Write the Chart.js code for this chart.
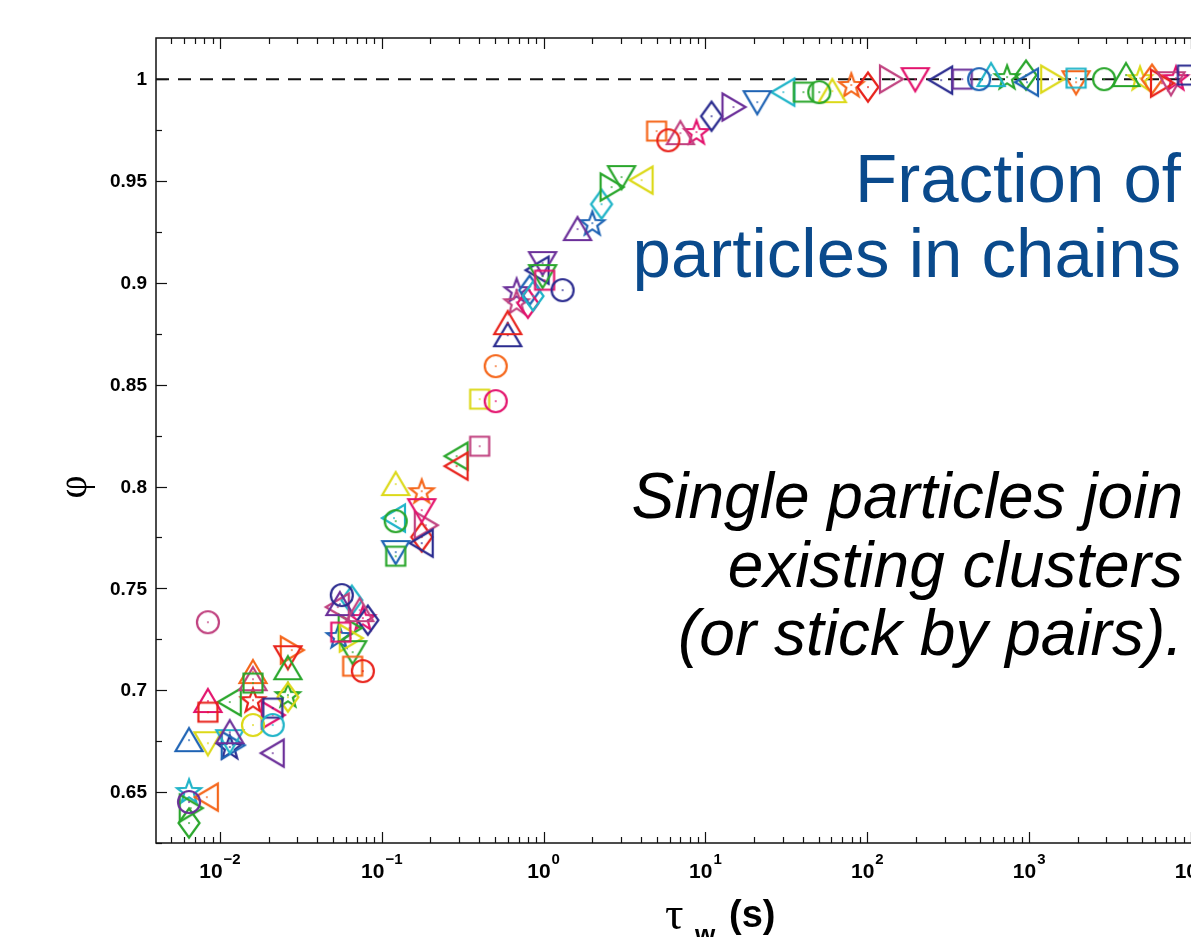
<!DOCTYPE html>
<html>
<head>
<meta charset="utf-8">
<script src="https://cdn.jsdelivr.net/npm/chart.js@4.4.0/dist/chart.umd.min.js"></script>
<style>
  html, body { margin: 0; padding: 0; background: #fff; overflow: hidden; }
  #wrap { width: 1300px; height: 937px; }
</style>
</head>
<body>
<div id="wrap"><canvas id="chart" width="1300" height="937"></canvas></div>
<script>
// --- data: waiting time tau_w (s) and fraction phi, grouped by marker shape ---
const circleTau = [0.00843, 0.016, 0.0212, 0.00644, 0.0566, 0.0764, 0.1219, 0.506, 0.506, 1.31, 5.9, 50.5, 491, 2904];
const circlePhi = [0.7334, 0.6829, 0.6829, 0.6451, 0.7467, 0.7094, 0.783, 0.8419, 0.8591, 0.8964, 0.970, 0.9936, 1.0, 1.0];

const squareTau = [0.016, 0.00843, 0.0212, 0.0558, 0.0661, 0.1219, 0.4027, 0.4027, 1.014, 4.99, 40.3, 386, 1950, 9500];
const squarePhi = [0.7035, 0.6892, 0.6912, 0.7285, 0.7118, 0.7658, 0.8198, 0.8429, 0.9013, 0.9745, 0.9936, 1.0, 1.0005, 1.002];

const upTau = [0.0263, 0.016, 0.016, 0.00843, 0.0115, 0.00644, 0.0551, 0.0731, 0.1219, 0.600, 0.600, 1.62, 7.0, 60.8, 582, 3970];
const upPhi = [0.7108, 0.7089, 0.7054, 0.6947, 0.6794, 0.6755, 0.7423, 0.7393, 0.8012, 0.8743, 0.8802, 0.9264, 0.9735, 0.9941, 1.002, 1.002];

const downTau = [0.0263, 0.00843, 0.0115, 0.0661, 0.1766, 0.1219, 0.986, 0.986, 3.03, 20.9, 198, 1950, 7530];
const downPhi = [0.7162, 0.6740, 0.675, 0.7187, 0.7884, 0.7678, 0.9097, 0.9033, 0.9519, 0.9887, 1.0, 0.9985, 0.998];

const leftTau = [0.0115, 0.0212, 0.0083, 0.0535, 0.119, 0.1766, 0.290, 0.290, 0.918, 4.03, 30.3, 286, 970];
const leftPhi = [0.6942, 0.6691, 0.6475, 0.7408, 0.7845, 0.7722, 0.8149, 0.810, 0.9062, 0.9504, 0.9936, 0.9995, 0.9985];

const rightTau = [0.0278, 0.0212, 0.0120, 0.0066, 0.0633, 0.0643, 0.187, 2.63, 14.9, 140, 1387, 6620];
const rightPhi = [0.7197, 0.6878, 0.673, 0.6421, 0.7305, 0.7256, 0.781, 0.947, 0.9863, 1.0, 1.0, 0.998];

const diamondTau = [0.0263, 0.00644, 0.0653, 0.082, 0.1766, 0.82, 0.80, 0.86, 2.28, 10.9, 101, 957, 5745];
const diamondPhi = [0.6966, 0.6348, 0.7442, 0.7344, 0.7752, 0.8964, 0.890, 0.8935, 0.9386, 0.9818, 0.9961, 1.002, 1.0];

const starTau = [0.016, 0.0263, 0.0115, 0.00644, 0.0764, 0.0543, 0.1766, 0.681, 0.681, 2.0, 8.8, 79.6, 731, 4845, 8070];
const starPhi = [0.6951, 0.6976, 0.6721, 0.6505, 0.7354, 0.7266, 0.7977, 0.8964, 0.8905, 0.9293, 0.974, 0.9971, 1.001, 1.0005, 1.0005];

const yTickLabels = ['0.65', '0.7', '0.75', '0.8', '0.85', '0.9', '0.95', '1'];
const xTickExponents = [-2, -1, 0, 1, 2, 3, 4];

// --- styles (kept apart from the values) ---
const palette = {
    red: '#e8231c', orange: '#f5661a', yellow: '#dcd919', green: '#29a62b', cyan: '#1fb4c8',
    blue: '#1e63b4', navy: '#2a2b8f', purple: '#6b2f99', mauve: '#c0417f', magenta: '#e3136d'
};
const circleColors = ['mauve', 'yellow', 'cyan', 'purple', 'navy', 'red', 'green', 'magenta', 'orange', 'navy', 'red', 'green', 'blue', 'green'];
const squareColors = ['green', 'red', 'navy', 'magenta', 'orange', 'green', 'mauve', 'yellow', 'magenta', 'orange', 'green', 'purple', 'cyan', 'navy'];
const upColors = ['green', 'orange', 'mauve', 'magenta', 'purple', 'blue', 'purple', 'mauve', 'yellow', 'navy', 'red', 'purple', 'mauve', 'yellow', 'cyan', 'green'];
const downColors = ['red', 'yellow', 'cyan', 'green', 'magenta', 'blue', 'purple', 'green', 'green', 'blue', 'magenta', 'orange', 'mauve'];
const leftColors = ['green', 'purple', 'orange', 'mauve', 'cyan', 'navy', 'green', 'red', 'navy', 'yellow', 'cyan', 'navy', 'blue'];
const rightColors = ['orange', 'magenta', 'blue', 'green', 'green', 'yellow', 'mauve', 'green', 'purple', 'mauve', 'yellow', 'red'];
const diamondColors = ['yellow', 'green', 'cyan', 'navy', 'red', 'blue', 'magenta', 'cyan', 'cyan', 'navy', 'red', 'green', 'orange'];
const starColors = ['red', 'green', 'navy', 'cyan', 'magenta', 'blue', 'orange', 'purple', 'mauve', 'blue', 'magenta', 'orange', 'green', 'yellow', 'magenta'];

// hollow marker with a tiny centre dot, drawn once per shape/colour
const markerCache = {};
function marker(shape, colorName) {
    const key = shape + colorName;
    if (markerCache[key]) return markerCache[key];
    const c = document.createElement('canvas');
    c.width = 36; c.height = 36;
    const g = c.getContext('2d');
    const col = palette[colorName];
    g.translate(18, 18);
    g.strokeStyle = col;
    g.fillStyle = col;
    g.lineWidth = 2.2;
    g.lineJoin = 'miter';
    g.beginPath();
    if (shape === 'circle') {
        g.arc(0, 0, 11, 0, Math.PI * 2);
    } else if (shape === 'square') {
        g.rect(-9.5, -9.5, 19, 19);
    } else if (shape === 'up') {
        g.moveTo(0, -12); g.lineTo(13.5, 11); g.lineTo(-13.5, 11); g.closePath();
    } else if (shape === 'down') {
        g.moveTo(0, 12); g.lineTo(13.5, -11); g.lineTo(-13.5, -11); g.closePath();
    } else if (shape === 'left') {
        g.moveTo(-12, 0); g.lineTo(11, -13.5); g.lineTo(11, 13.5); g.closePath();
    } else if (shape === 'right') {
        g.moveTo(12, 0); g.lineTo(-11, -13.5); g.lineTo(-11, 13.5); g.closePath();
    } else if (shape === 'diamond') {
        g.moveTo(0, -14.5); g.lineTo(10.5, 0); g.lineTo(0, 14.5); g.lineTo(-10.5, 0); g.closePath();
    } else if (shape === 'star') {
        for (let i = 0; i < 10; i++) {
            const r = i % 2 === 0 ? 12.5 : 5.2;
            const a = -Math.PI / 2 + i * Math.PI / 5;
            const px = r * Math.cos(a), py = r * Math.sin(a) + 1;
            if (i === 0) g.moveTo(px, py); else g.lineTo(px, py);
        }
        g.closePath();
    }
    g.stroke();
    g.fillRect(-0.8, -0.8, 1.6, 1.6);
    markerCache[key] = c;
    return c;
}

function shapeDataset(shape, taus, phis, colors) {
    return {
        type: 'scatter',
        data: taus.map((t, i) => ({ x: t, y: phis[i] })),
        pointStyle: ctx => marker(shape, colors[ctx.dataIndex] || 'navy'),
        pointRadius: 12,
        order: 0
    };
}

const X_MIN = 0.004027, X_MAX = 39200;
const Y_MIN = 0.625, Y_MAX = 1.0202;

// frame, inward ticks, labels and the slide text
const framePlugin = {
    id: 'frame',
    afterDraw(chart) {
        const { ctx, chartArea: a, scales: { x, y } } = chart;
        ctx.save();
        ctx.strokeStyle = '#111';
        ctx.lineWidth = 1.5;
        ctx.strokeRect(a.left, a.top, a.right - a.left, a.bottom - a.top);

        const seg = (x1, y1, x2, y2) => { ctx.beginPath(); ctx.moveTo(x1, y1); ctx.lineTo(x2, y2); ctx.stroke(); };
        ctx.lineWidth = 1.2;
        for (let e = -3; e <= 5; e++) {
            for (let m = 1; m <= 9; m++) {
                const v = m * Math.pow(10, e);
                if (v < X_MIN || v > X_MAX) continue;
                const px = Math.round(x.getPixelForValue(v)) + 0.5;
                const len = m === 1 ? 11 : 6;
                seg(px, a.bottom, px, a.bottom - len);
                seg(px, a.top, px, a.top + len);
            }
        }
        for (let k = 0; k <= 16; k++) {
            const v = Math.round((0.625 + k * 0.025) * 1000) / 1000;
            if (v < Y_MIN || v > Y_MAX) continue;
            const py = Math.round(y.getPixelForValue(v)) + 0.5;
            seg(a.left, py, a.left + (k % 2 === 1 ? 11 : 6), py);
        }

        ctx.fillStyle = '#000';
        ctx.font = 'bold 19px "Liberation Sans", Arial, sans-serif';
        ctx.textAlign = 'right';
        ctx.textBaseline = 'middle';
        yTickLabels.forEach(lbl => {
            ctx.fillText(lbl, a.left - 9, y.getPixelForValue(parseFloat(lbl)) + 1);
        });

        ctx.textAlign = 'left';
        ctx.textBaseline = 'alphabetic';
        xTickExponents.forEach(e => {
            const px = x.getPixelForValue(Math.pow(10, e));
            const sup = e < 0 ? '\u2212' + (-e) : String(e);
            ctx.font = 'bold 21px "Liberation Sans", Arial, sans-serif';
            const w10 = ctx.measureText('10').width;
            ctx.font = 'bold 15px "Liberation Sans", Arial, sans-serif';
            const ws = ctx.measureText(sup).width;
            const x0 = px - (w10 + ws + 1) / 2;
            ctx.font = 'bold 21px "Liberation Sans", Arial, sans-serif';
            ctx.fillText('10', x0, 878);
            ctx.font = 'bold 15px "Liberation Sans", Arial, sans-serif';
            ctx.fillText(sup, x0 + w10 + 1, 864);
        });

        // axis titles
        ctx.font = '46px "Liberation Serif", "DejaVu Serif", serif';
        ctx.fillText('\u03c4', 665, 929);
        ctx.font = 'bold 26px "Liberation Sans", Arial, sans-serif';
        ctx.fillText('w', 695, 943);
        ctx.font = 'bold 38px "Liberation Sans", Arial, sans-serif';
        ctx.fillText('(s)', 729, 927);

        ctx.save();
        ctx.translate(75, 487);
        ctx.rotate(-Math.PI / 2);
        ctx.textAlign = 'center';
        ctx.textBaseline = 'middle';
        ctx.font = '40px "Liberation Serif", "DejaVu Serif", serif';
        ctx.fillText('\u03c6', 0, 0);
        ctx.restore();

        // slide annotations
        ctx.textAlign = 'right';
        ctx.fillStyle = '#0a4a8c';
        ctx.font = '69px "Liberation Sans", Arial, sans-serif';
        ctx.fillText('Fraction of', 1181, 202);
        ctx.fillText('particles in chains', 1181, 277);

        ctx.fillStyle = '#000';
        ctx.font = 'italic 64px "Liberation Sans", Arial, sans-serif';
        ctx.fillText('Single particles join', 1183, 518);
        ctx.fillText('existing clusters', 1183, 587);
        ctx.fillText('(or stick by pairs).', 1183, 655);
        ctx.restore();
    }
};

new Chart(document.getElementById('chart'), {
    type: 'scatter',
    data: {
        datasets: [
            {
                type: 'line',
                data: [{ x: X_MIN, y: 1 }, { x: X_MAX, y: 1 }],
                borderColor: '#111',
                borderWidth: 2,
                borderDash: [13, 9],
                pointRadius: 0,
                order: 10
            },
            shapeDataset('circle', circleTau, circlePhi, circleColors),
            shapeDataset('square', squareTau, squarePhi, squareColors),
            shapeDataset('up', upTau, upPhi, upColors),
            shapeDataset('down', downTau, downPhi, downColors),
            shapeDataset('left', leftTau, leftPhi, leftColors),
            shapeDataset('right', rightTau, rightPhi, rightColors),
            shapeDataset('diamond', diamondTau, diamondPhi, diamondColors),
            shapeDataset('star', starTau, starPhi, starColors)
        ]
    },
    options: {
        responsive: false,
        devicePixelRatio: 1,
        animation: false,
        layout: { padding: { left: 156, top: 38, right: 12, bottom: 94 } },
        plugins: { legend: { display: false }, tooltip: { enabled: false } },
        scales: {
            x: { type: 'logarithmic', min: X_MIN, max: X_MAX, display: false },
            y: { type: 'linear', min: Y_MIN, max: Y_MAX, display: false }
        }
    },
    plugins: [framePlugin]
});
</script>
</body>
</html>
